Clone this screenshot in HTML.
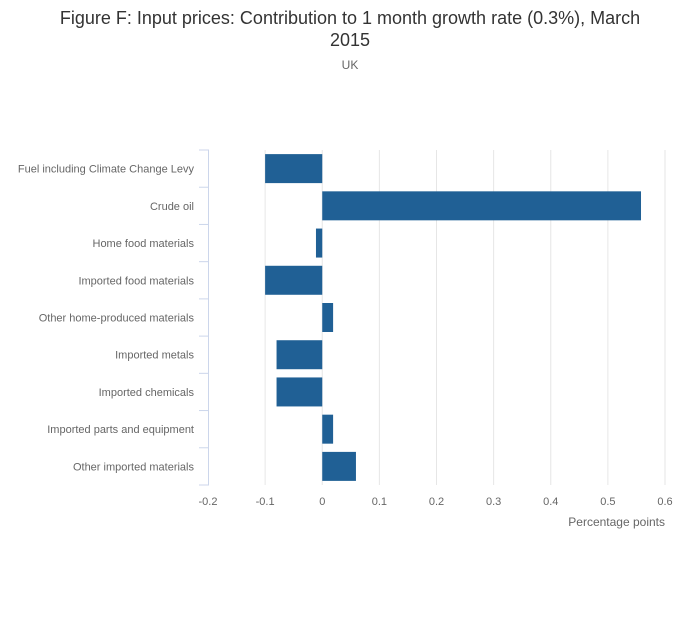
<!DOCTYPE html>
<html><head><meta charset="utf-8"><style>
body{margin:0;background:#fff;font-family:"Liberation Sans",sans-serif;}
svg{display:block}
</style></head><body>
<svg id="chart" width="700" height="635" xmlns="http://www.w3.org/2000/svg">
<text x="350" y="24" text-anchor="middle" font-size="18" fill="#333">Figure F: Input prices: Contribution to 1 month growth rate (0.3%), March</text>
<text x="350" y="46" text-anchor="middle" font-size="18" fill="#333">2015</text>
<text x="350" y="69" text-anchor="middle" font-size="12" fill="#666">UK</text>
<g id="grid"></g><g id="bars"></g><g id="yaxis"></g><g id="xaxis"></g>
<text x="665" y="526" text-anchor="end" font-size="12" fill="#666">Percentage points</text>
</svg>
<script>
const categories=["Fuel including Climate Change Levy","Crude oil","Home food materials","Imported food materials","Other home-produced materials","Imported metals","Imported chemicals","Imported parts and equipment","Other imported materials"];
const values=[-0.1,0.558,-0.011,-0.1,0.019,-0.08,-0.08,0.019,0.059];
const ticks=[-0.2,-0.1,0,0.1,0.2,0.3,0.4,0.5,0.6];
const tickLabels=["-0.2","-0.1","0","0.1","0.2","0.3","0.4","0.5","0.6"];
const NS="http://www.w3.org/2000/svg";
const x0=208,x1=665,plotTop=150,plotBot=485;
const xs=v=>x0+(v-(-0.2))/(0.8)*(x1-x0);
const band=(plotBot-plotTop)/categories.length;
function mk(t,a,p){const e=document.createElementNS(NS,t);for(const k in a)e.setAttribute(k,a[k]);document.getElementById(p).appendChild(e);return e;}
ticks.forEach((t,i)=>{
 if(i>0){const g=mk('line',{x1:xs(t),x2:xs(t),y1:plotTop,y2:plotBot,stroke:'#e6e6e6','stroke-width':1},'grid');
 
 }
 const l=mk('text',{x:xs(t),y:plotBot+20,'text-anchor':'middle','font-size':11,fill:'#666'},'xaxis');
 l.textContent=tickLabels[i];
 
 
});
const ax=mk('line',{x1:208.5,x2:208.5,y1:plotTop,y2:plotBot,stroke:'#ccd6eb','stroke-width':1},'yaxis');


for(let i=0;i<=categories.length;i++){
 const tk=mk('line',{x1:199,x2:209,y1:plotTop+i*band,y2:plotTop+i*band,stroke:'#ccd6eb','stroke-width':1},'yaxis');
 
 
}
categories.forEach((c,i)=>{
 const cy=plotTop+(i+0.5)*band;
 const t=mk('text',{x:194,y:cy+4,'text-anchor':'end','font-size':11,fill:'#666'},'yaxis');
 t.textContent=c;
 
 
 const v=values[i];const a=xs(0),b=xs(v);
 const r=mk('rect',{x:Math.min(a,b),y:cy-14.5,width:Math.abs(b-a),height:29,fill:'#206095'},'bars');
 
 
});
</script>
</body></html>
